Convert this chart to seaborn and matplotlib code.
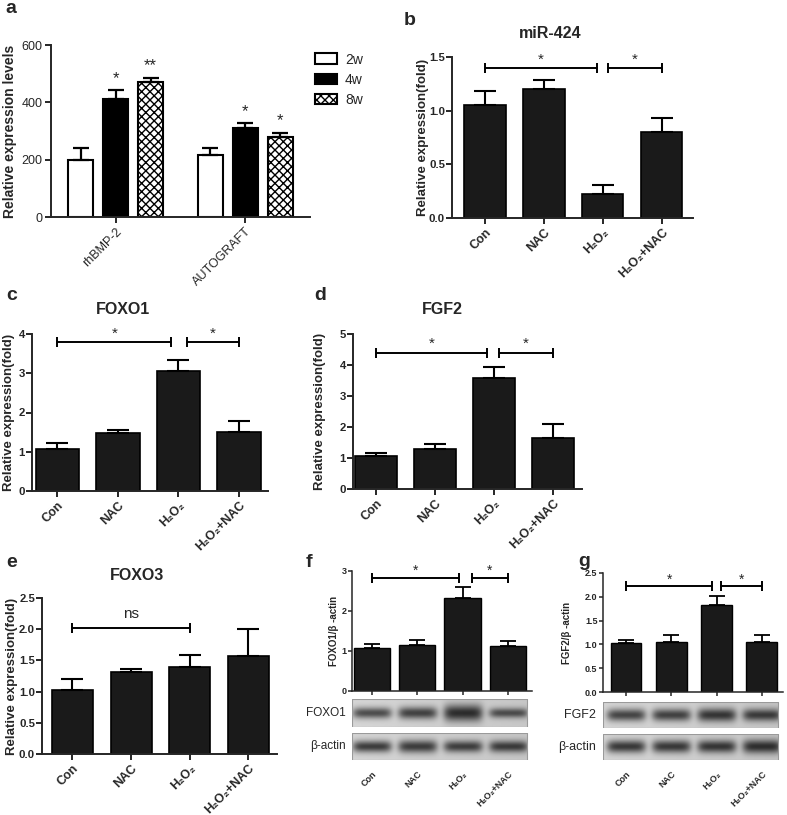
# ── Multi-panel expression / western blot figure ─────────────
import numpy as np
import pandas as pd
import matplotlib
matplotlib.use('Agg')
import matplotlib.pyplot as plt
import seaborn as sns
from matplotlib.patches import Patch

W, H = 787, 815

# ── Data ─────────────────────────────────────────────────────
groups = ['Con', 'NAC', 'H₂O₂', 'H₂O₂+NAC']

a_graft = ['rhBMP-2', 'AUTOGRAFT']
a_weeks = ['2w', '4w', '8w']
a_mean = [[198, 413, 472], [215, 309, 280]]
a_err = [[44, 30, 14], [26, 19, 14]]
a_stars = [['', '*', '**'], ['', '*', '*']]

mir424_mean = [1.05, 1.20, 0.22, 0.80]
mir424_err = [0.13, 0.09, 0.09, 0.13]
foxo1_mean = [1.08, 1.48, 3.06, 1.50]
foxo1_err = [0.14, 0.08, 0.28, 0.28]
fgf2_mean = [1.06, 1.29, 3.58, 1.65]
fgf2_err = [0.10, 0.16, 0.36, 0.45]
foxo3_mean = [1.03, 1.31, 1.39, 1.57]
foxo3_err = [0.17, 0.05, 0.20, 0.43]
foxo1_wb_mean = [1.07, 1.15, 2.33, 1.12]
foxo1_wb_err = [0.10, 0.12, 0.28, 0.14]
fgf2_wb_mean = [1.03, 1.06, 1.83, 1.04]
fgf2_wb_err = [0.07, 0.14, 0.18, 0.16]

# band darkness and thickness per lane
foxo1_band = [0.80, 0.85, 0.95, 0.75]
foxo1_band_h = [0.20, 0.22, 0.30, 0.18]
foxo1_actin = [0.90, 0.88, 0.85, 0.85]
foxo1_actin_h = [0.22, 0.24, 0.22, 0.22]
fgf2_band = [0.85, 0.85, 0.90, 0.85]
fgf2_band_h = [0.24, 0.24, 0.26, 0.24]
fgf2_actin = [0.92, 0.90, 0.90, 0.92]
fgf2_actin_h = [0.24, 0.24, 0.24, 0.26]

# ── Style ────────────────────────────────────────────────────
sns.set_style('ticks')
plt.rcParams['font.family'] = ['Liberation Sans', 'DejaVu Sans']
plt.rcParams['axes.linewidth'] = 1.4
BAR = '#1a1a1a'


def px_rect(l, t, r, b):
    return [l / W, 1 - b / H, (r - l) / W, (b - t) / H]


def style_axes(ax, lw=1.4, tl=4, pad=1.5):
    sns.despine(ax=ax)
    for s in ['left', 'bottom']:
        ax.spines[s].set_linewidth(lw)
    ax.tick_params(width=lw, length=tl, direction='out', pad=pad)
    ax.set_xlabel('')


def bracket(ax, x1, x2, y, text, fs=11, off=2, weight='normal'):
    ax.plot([x1, x2], [y, y], color='black', lw=1.4, marker='|',
            markersize=7, mew=1.4, clip_on=False)
    ax.annotate(text, xy=((x1 + x2) / 2, y), xytext=(0, off),
                textcoords='offset points', ha='center', va='bottom',
                fontsize=fs, fontweight=weight, annotation_clip=False)


def expr_bars(ax, means, errs, width, cap, lw=1.2):
    df = pd.DataFrame({'group': groups, 'value': means})
    sns.barplot(data=df, x='group', y='value', color=BAR, saturation=1,
                edgecolor='black', linewidth=lw, width=width, ax=ax)
    for p, e in zip(ax.patches, errs):
        x = p.get_x() + p.get_width() / 2
        ax.errorbar(x, p.get_height(), yerr=[[0], [e]], color='black',
                    capsize=cap, elinewidth=lw + 0.3, capthick=lw + 0.3)


fig = plt.figure(figsize=(W / 100, H / 100), dpi=100)

# ── Panel a ──────────────────────────────────────────────────
ax = fig.add_axes(px_rect(51, 45, 310, 217))
a_df = pd.DataFrame([(g, w, a_mean[i][j])
                     for i, g in enumerate(a_graft)
                     for j, w in enumerate(a_weeks)],
                    columns=['graft', 'week', 'value'])
sns.barplot(data=a_df, x='graft', y='value', hue='week', hue_order=a_weeks,
            palette=['white', 'black', 'white'], saturation=1,
            edgecolor='black', linewidth=1.5, width=0.81, gap=0.28,
            legend=False, ax=ax)
bars = sorted([p for p in ax.patches if p.get_height() > 0], key=lambda p: p.get_x())
flat_err = [e for row in a_err for e in row]
flat_star = [s for row in a_stars for s in row]
for k, (p, e, s) in enumerate(zip(bars, flat_err, flat_star)):
    if k % 3 == 2:
        p.set_hatch('xxxx')
    x = p.get_x() + p.get_width() / 2
    ax.errorbar(x, p.get_height(), yerr=[[0], [e]], color='black',
                capsize=6, elinewidth=1.6, capthick=1.6)
    if s:
        ax.annotate(s, xy=(x, p.get_height() + e), xytext=(0, 3),
                    textcoords='offset points', ha='center', va='bottom',
                    fontsize=12)
ax.set_ylim(0, 600)
ax.set_xlim(-0.5, 1.5)
ax.set_yticks([0, 200, 400, 600])
style_axes(ax, pad=2)
ax.tick_params(labelsize=9)
for t in ax.get_xticklabels():
    t.set_rotation(45)
    t.set_ha('right')
    t.set_rotation_mode('anchor')
ax.set_ylabel('Relative expression levels', fontsize=10, fontweight='bold')
ax.yaxis.set_label_coords(-0.13, 0.5)
handles = [Patch(facecolor='white', edgecolor='black', lw=1.5),
           Patch(facecolor='black', edgecolor='black', lw=1.5),
           Patch(facecolor='white', edgecolor='black', lw=1.5, hatch='xxxx')]
fig.legend(handles, a_weeks, loc='upper left', bbox_to_anchor=(302 / W, 1 - 40 / H),
           frameon=False, fontsize=10, handlelength=1.6, handleheight=0.8,
           labelspacing=0.45, handletextpad=0.6)

# ── Panels b–e (qPCR) ────────────────────────────────────────
panels = [
    dict(rect=(452, 57, 693, 218), means=mir424_mean, errs=mir424_err,
         ylim=1.5, yticks=[0.0, 0.5, 1.0, 1.5], fmt='{:.1f}', xlim=(-0.56, 3.53),
         width=0.7, labx=-0.097, title='miR-424', txy=(550, 33),
         brk=[(0, 1.9, 1.40, '*'), (2.08, 3, 1.40, '*')], letter=('b', 404, 12)),
    dict(rect=(32, 334, 268, 491), means=foxo1_mean, errs=foxo1_err,
         ylim=4, yticks=[0, 1, 2, 3, 4], fmt='{:d}', xlim=(-0.42, 3.48),
         width=0.72, labx=-0.072, title='FOXO1', txy=(123, 310),
         brk=[(0, 1.88, 3.8, '*'), (2.14, 3, 3.8, '*')], letter=('c', 6, 287)),
    dict(rect=(353, 334, 582, 489), means=fgf2_mean, errs=fgf2_err,
         ylim=5, yticks=[0, 1, 2, 3, 4, 5], fmt='{:d}', xlim=(-0.39, 3.49),
         width=0.7, labx=-0.12, title='FGF2', txy=(442, 309),
         brk=[(0, 1.88, 4.4, '*'), (2.08, 3, 4.4, '*')], letter=('d', 314, 287)),
    dict(rect=(42, 598, 277, 754), means=foxo3_mean, errs=foxo3_err,
         ylim=2.5, yticks=[0.0, 0.5, 1.0, 1.5, 2.0, 2.5], fmt='{:.1f}', xlim=(-0.52, 3.49),
         width=0.7, labx=-0.1, title='FOXO3', txy=(137, 575),
         brk=[(0, 2, 2.02, 'ns')], letter=('e', 6, 554)),
]

for spec in panels:
    ax = fig.add_axes(px_rect(*spec['rect']))
    expr_bars(ax, spec['means'], spec['errs'], spec['width'], cap=8)
    ax.set_ylim(0, spec['ylim'])
    ax.set_xlim(*spec['xlim'])
    ax.set_yticks(spec['yticks'])
    ax.set_yticklabels([spec['fmt'].format(v) for v in spec['yticks']])
    style_axes(ax, pad=1)
    ax.tick_params(labelsize=8.2)
    ax.tick_params(axis='x', labelsize=9, pad=2)
    for t in ax.get_xticklabels() + ax.get_yticklabels():
        t.set_fontweight('bold')
    for t in ax.get_xticklabels():
        t.set_rotation(45)
        t.set_ha('right')
        t.set_rotation_mode('anchor')
    ax.set_ylabel('Relative expression(fold)', fontsize=9.5, fontweight='bold')
    ax.yaxis.set_label_coords(spec['labx'], 0.5)
    for x1, x2, y, txt in spec['brk']:
        if txt == 'ns':
            bracket(ax, x1, x2, y, txt, fs=11, off=5)
        else:
            bracket(ax, x1, x2, y, txt, fs=11, off=1)
    fig.text(spec['txy'][0] / W, 1 - spec['txy'][1] / H, spec['title'],
             ha='center', va='center', fontsize=11.5, fontweight='bold')
    l, lx, ly = spec['letter']
    fig.text(lx / W, 1 - ly / H, l, ha='left', va='top', fontsize=14, fontweight='bold')

# ── Panel a letter ───────────────────────────────────────────
fig.text(5 / W, 1 - 0 / H, 'a', ha='left', va='top', fontsize=14, fontweight='bold')


# ── Panels f, g (western blot) ───────────────────────────────
def blot_image(dark, thick, x0, x1, nx=400, ny=60):
    xs = np.linspace(x0, x1, nx)
    ys = np.linspace(0, 1, ny)
    X, Y = np.meshgrid(xs, ys)
    img = np.full_like(X, 0.84) - 0.06 * (X - x0) / (x1 - x0)
    for i, (d, h) in enumerate(zip(dark, thick)):
        band = np.exp(-((X - i) / 0.43) ** 6) * np.exp(-((Y - 0.5) / h) ** 2)
        img -= 0.66 * d * band
    return img


wb_panels = [
    dict(rect=(352, 571, 532, 691), means=foxo1_wb_mean, errs=foxo1_wb_err,
         ylim=3, yticks=[0, 1, 2, 3], fmt='{:d}', xlim=(-0.44, 3.53), img_x1=3.42,
         width=0.8, ylabel='FOXO1/β -actin', labx=-0.07,
         brk=[(0, 1.93, 2.82, '*'), (2.2, 3, 2.82, '*')],
         blots=[(699, 727, foxo1_band, foxo1_band_h, 'FOXO1'),
                (733, 760, foxo1_actin, foxo1_actin_h, 'β-actin')],
         lab_x=346, lab_fs=8.5, letter=('f', 306, 554)),
    dict(rect=(603, 573, 783, 692), means=fgf2_wb_mean, errs=fgf2_wb_err,
         ylim=2.5, yticks=[0.0, 0.5, 1.0, 1.5, 2.0, 2.5], fmt='{:.1f}', xlim=(-0.51, 3.47),
         img_x1=3.37, width=0.68, ylabel='FGF2/β -actin', labx=-0.17,
         brk=[(0, 1.91, 2.22, '*'), (2.11, 3, 2.22, '*')],
         blots=[(702, 728, fgf2_band, fgf2_band_h, 'FGF2'),
                (734, 760, fgf2_actin, fgf2_actin_h, 'β-actin')],
         lab_x=596, lab_fs=9, letter=('g', 578, 553)),
]

for spec in wb_panels:
    l, t, r, b = spec['rect']
    ax = fig.add_axes(px_rect(l, t, r, b))
    expr_bars(ax, spec['means'], spec['errs'], spec['width'], cap=6, lw=1.0)
    ax.set_ylim(0, spec['ylim'])
    ax.set_xlim(*spec['xlim'])
    ax.set_yticks(spec['yticks'])
    ax.set_yticklabels([spec['fmt'].format(v) for v in spec['yticks']])
    ax.set_xticklabels([])
    style_axes(ax, lw=1.1, tl=3, pad=1)
    ax.tick_params(labelsize=6.5)
    for tk in ax.get_yticklabels():
        tk.set_fontweight('bold')
    ax.set_ylabel(spec['ylabel'], fontsize=7, fontweight='bold')
    ax.yaxis.set_label_coords(spec['labx'], 0.5)
    for x1, x2, y, txt in spec['brk']:
        bracket(ax, x1, x2, y, txt, fs=10, off=0)

    for k, (bt, bb, dark, thick, name) in enumerate(spec['blots']):
        bx = fig.add_axes(px_rect(l, bt, r, bb))
        x0, x1 = spec['xlim'][0], spec['img_x1']
        bx.imshow(blot_image(dark, thick, x0, x1), cmap='gray', vmin=0, vmax=1,
                  extent=(x0, x1, 0, 1), aspect='auto', interpolation='bilinear')
        bx.set_xlim(*spec['xlim'])
        bx.set_ylim(0, 1)
        for s in bx.spines.values():
            s.set_visible(False)
        bx.plot([x0, x1, x1, x0, x0], [0, 0, 1, 1, 0], color='#9a9a9a', lw=0.8)
        bx.set_yticks([])
        bx.set_xticks(range(len(groups)))
        if k == len(spec['blots']) - 1:
            bx.set_xticklabels(groups, fontsize=6.5, fontweight='bold')
            bx.tick_params(axis='x', length=0, pad=7)
            for tk in bx.get_xticklabels():
                tk.set_rotation(45)
                tk.set_ha('right')
                tk.set_rotation_mode('anchor')
        else:
            bx.set_xticklabels([])
            bx.tick_params(axis='x', length=0)
        fig.text(spec['lab_x'] / W, 1 - (bt + bb) / 2 / H, name, ha='right', va='center',
                 fontsize=spec['lab_fs'])
    lt, lx, ly = spec['letter']
    fig.text(lx / W, 1 - ly / H, lt, ha='left', va='top', fontsize=14, fontweight='bold')

fig.savefig('out.png', dpi=100)
